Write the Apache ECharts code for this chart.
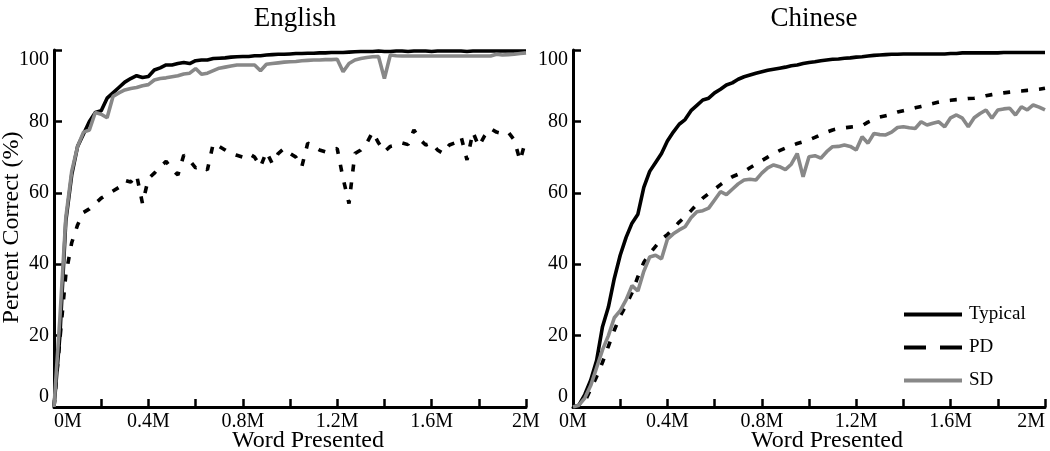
<!DOCTYPE html>
<html>
<head>
<meta charset="utf-8">
<script src="https://cdn.jsdelivr.net/npm/echarts@6/dist/echarts.min.js"></script>
<style>
  html, body { margin: 0; padding: 0; background: #fff; }
  #main { width: 1050px; height: 451px; }
</style>
</head>
<body>
<div id="main"></div>
<script>
// 数据：横轴（百万词）以及每条曲线的正确率
const xs = [0,0.025,0.05,0.075,0.1,0.125,0.15,0.175,0.2,0.225,0.25,0.275,0.3,0.325,0.35,0.375,0.4,0.425,0.45,0.475,
  0.5,0.525,0.55,0.575,0.6,0.625,0.65,0.675,0.7,0.725,0.75,0.775,0.8,0.825,0.85,0.875,0.9,0.925,0.95,0.975,
  1,1.025,1.05,1.075,1.1,1.125,1.15,1.175,1.2,1.225,1.25,1.275,1.3,1.325,1.35,1.375,1.4,1.425,1.45,1.475,
  1.5,1.525,1.55,1.575,1.6,1.625,1.65,1.675,1.7,1.725,1.75,1.775,1.8,1.825,1.85,1.875,1.9,1.925,1.95,1.975,2]

const enTypical = [0,20,52,65,73,76.5,80,82.5,83,86.5,88,89.5,91,92,92.8,92.3,92.6,94.4,95,95.8,
  95.8,96.2,96.5,96.2,97,97.2,97.2,97.6,97.7,97.8,98,98.1,98.2,98.2,98.4,98.4,98.6,98.7,98.8,98.8,
  98.9,99,99,99.1,99.1,99.2,99.2,99.3,99.3,99.3,99.4,99.5,99.6,99.6,99.6,99.7,99.6,99.6,99.7,99.7,
  99.6,99.7,99.7,99.7,99.6,99.7,99.7,99.7,99.7,99.7,99.6,99.7,99.7,99.7,99.7,99.7,99.7,99.7,99.7,99.7,99.7]
const enPD = [0,19,37,46,51,54.5,55.5,57,58.5,59.5,60.5,61.5,63.5,63,65,57,64,65.5,67.3,68.8,
  66.5,65,70.6,69,67,67.5,66.4,73.9,73,72,71,70.5,70,71,70,67.3,71.5,68.2,71,72.4,
  71,70,67.3,73.9,73,72,71.5,72,72.4,64,57,71,72,73.9,77,74,71.5,73,73.4,74,
  73.5,77.6,75,73.4,74,72,71,73.4,74,75.7,69.2,77,73,76,78,77,76.6,77,74.8,69,75]
const enSD = [0,25,53,66,73,77,77.6,82.5,82,81,87,88,88.8,89.2,89.5,90,90.3,91.6,92,92.2,
  92.5,92.8,93.3,93.5,94.8,93.2,93.5,94.2,94.9,95.2,95.5,95.8,95.8,95.8,95.8,94.2,96,96.2,96.4,96.6,
  96.7,96.8,97,97.1,97.2,97.2,97.3,97.3,97.4,93.9,96.2,97.2,97.6,97.9,98.1,98.2,92,98.6,98.4,98.3,
  98.3,98.3,98.3,98.3,98.3,98.3,98.3,98.3,98.3,98.3,98.3,98.3,98.3,98.3,98.3,98.8,98.6,98.7,98.8,99,99.2]

const zhTypical = [0,0.5,3.5,7.5,13,22.5,28,36,42.5,47.5,51.5,54,61.5,66,68.5,71,74.5,77,79.2,80.5,
  83,84.5,86,86.5,88,89,90.2,90.8,91.8,92.5,93,93.5,93.9,94.3,94.6,94.9,95.2,95.6,95.8,96.2,
  96.5,96.7,97,97.2,97.4,97.5,97.7,97.8,98,98.1,98.3,98.5,98.6,98.7,98.8,98.8,98.9,98.9,98.9,98.9,
  98.9,98.9,98.9,98.9,99,99,99.2,99.2,99.2,99.2,99.2,99.2,99.2,99.3,99.3,99.3,99.3,99.3,99.3,99.3,99.3]
const zhPD = [0,0,1.5,5,8.5,12.5,17,21.5,25.5,28.5,32,36.5,40.5,43,45,47,48.3,50,51.8,53.3,
  55,56.8,58.5,59.8,61,62.3,63.5,64.5,65.2,65.9,67,68,69,70,71,71.8,72.5,73.2,73.8,74.3,
  74.8,75.5,76.3,77,77.6,78,78.2,78.4,78.6,78.8,79.8,80.5,81.2,81.6,82,82.6,83,83.4,83.8,84.2,
  84.6,85,85.4,85.7,85.9,86.1,86.2,86.4,86.5,86.8,87.2,87.5,87.8,88,88.2,88.4,88.5,88.7,88.8,89,89.3]
const zhSD = [0,0.5,2.5,6,11,16,20,25,27,30,34,32.5,38,42,42.5,41.5,47,48.5,49.6,50.5,
  53,54.7,55,55.7,58,60.3,59.5,61,62.5,63.6,63.8,63.6,65.5,67,67.8,67.3,66.5,68,71,64.5,
  70.1,70.4,69.7,71.5,72.9,73,73.4,73,72,75.7,73.9,76.6,76.3,76.2,77,78.3,78.5,78.2,78,79.9,
  79,79.5,79.9,78.5,81,81.8,80.9,78.5,81,82.2,83.2,80.9,83.2,83.5,83.7,81.8,84.1,83.2,84.6,84,83.2]

const panelTitles = ["English", "Chinese"]
const groupNames = ["Typical", "PD", "SD"]

const font = "Liberation Serif"
const pairs = (ys) => xs.map((x, i) => [x, ys[i]])

const axisCommon = {
    axisLine: { show: true, lineStyle: { color: "#000", width: 3 } },
    axisTick: { show: true, inside: true, length: 8, lineStyle: { color: "#000", width: 2.5 } },
    splitLine: { show: false },
    nameMoveOverlap: false,
}

function xAxisFor(gridIndex) {
    return Object.assign({}, axisCommon, {
        type: "value",
        gridIndex,
        min: 0,
        max: 2,
        interval: 0.2,
        name: "Word Presented",
        nameLocation: "middle",
        nameGap: 22,
        nameTextStyle: { fontFamily: font, fontSize: 24, color: "#000", padding: [0, 0, 0, 36] },
        axisLabel: {
            fontFamily: font,
            fontSize: 20,
            color: "#000",
            margin: 5,
            alignMinLabel: gridIndex === 0 ? "left" : "center",
            alignMaxLabel: gridIndex === 0 ? "center" : "right",
            formatter: (v) => (Math.round(v * 10) % 4 === 0 ? Math.round(v * 10) / 10 + "M" : ""),
        },
    })
}

function yAxisFor(gridIndex) {
    return Object.assign({}, axisCommon, {
        type: "value",
        gridIndex,
        min: 0,
        max: 100,
        interval: 20,
        name: gridIndex === 0 ? "Percent Correct (%)" : "",
        nameLocation: "middle",
        nameGap: 30,
        nameTextStyle: { fontFamily: font, fontSize: 24, color: "#000", padding: [0, 0, 0, 2] },
        axisLabel: {
            fontFamily: font,
            fontSize: 20,
            color: "#000",
            margin: 5,
            verticalAlignMinLabel: "bottom",
            verticalAlignMaxLabel: "top",
        },
    })
}

const styles = {
    Typical: { color: "#000", width: 3.6, type: "solid" },
    PD: { color: "#000", width: 3.6, type: [7, 11] },
    SD: { color: "#888", width: 3.6, type: "solid" },
}

function seriesFor(gridIndex, values) {
    return groupNames.map((name, k) => ({
        name,
        type: "line",
        xAxisIndex: gridIndex,
        yAxisIndex: gridIndex,
        data: pairs(values[k]),
        symbol: "none",
        color: styles[name].color,
        lineStyle: styles[name],
        z: 2 + k,
    }))
}

const myChart = echarts.init(document.getElementById("main"), null, { renderer: "canvas" })
const option = {
    animation: false,
    backgroundColor: "#fff",
    title: [
        { text: panelTitles[0], left: 290, top: 0, textAlign: "center",
          textStyle: { fontFamily: font, fontSize: 27, fontWeight: "normal", color: "#000" } },
        { text: panelTitles[1], left: 809, top: 0, textAlign: "center",
          textStyle: { fontFamily: font, fontSize: 27, fontWeight: "normal", color: "#000" } },
    ],
    legend: {
        orient: "vertical",
        left: 897,
        top: 300,
        itemWidth: 58,
        itemHeight: 14,
        itemGap: 14,
        itemStyle: { opacity: 0 },
        lineStyle: { width: 4 },
        textStyle: { fontFamily: font, fontSize: 19, color: "#000", padding: [0, 0, 0, 2] },
        data: ["Typical", { name: "PD", lineStyle: { type: [22, 14], width: 4 } }, "SD"],
    },
    grid: [
        { left: 54, top: 50, width: 472, height: 357, containLabel: false, outerBoundsMode: "none" },
        { left: 573, top: 50, width: 472, height: 357, containLabel: false, outerBoundsMode: "none" },
    ],
    xAxis: [xAxisFor(0), xAxisFor(1)],
    yAxis: [yAxisFor(0), yAxisFor(1)],
    series: seriesFor(0, [enTypical, enPD, enSD]).concat(seriesFor(1, [zhTypical, zhPD, zhSD])),
}
myChart.setOption(option)
</script>
</body>
</html>
